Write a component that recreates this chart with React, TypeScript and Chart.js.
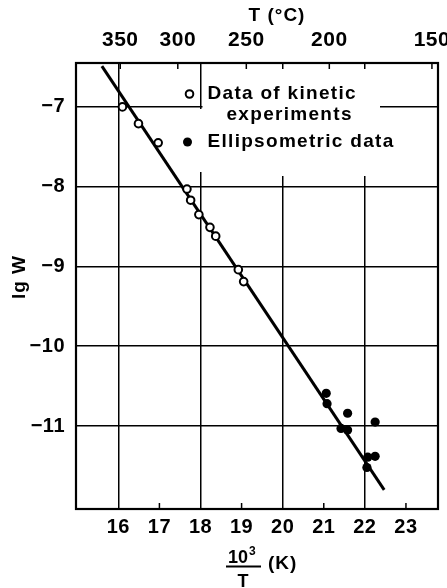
import React, { useEffect, useRef } from "react";
import { Chart, registerables } from "chart.js";
Chart.register(...registerables);

// x: reciprocal temperature (as labelled on the axis), y: lg W
const kineticX = [16.1, 16.49, 16.97, 17.67, 17.76, 17.96, 18.23, 18.37, 18.92, 19.05];
const kineticY = [-7.0, -7.21, -7.45, -8.03, -8.17, -8.35, -8.51, -8.62, -9.04, -9.19];
const ellipsX = [21.06, 21.08, 21.58, 21.42, 21.58, 22.25, 22.07, 22.25, 22.05];
const ellipsY = [-10.59, -10.72, -10.84, -11.03, -11.05, -10.95, -11.39, -11.38, -11.52];
const fitX = [15.6, 22.47];
const fitY = [-6.49, -11.8];

const bottomTicks = [16, 17, 18, 19, 20, 21, 22, 23];
const yTicks = [-7, -8, -9, -10, -11];
const topTicksC = [350, 300, 250, 200, 150];

const kineticLabel = ["Data of kinetic", "experiments"];
const ellipsLabel = "Ellipsometric data";

const FONT = "'Liberation Sans', Arial, sans-serif";
const tickFont = { family: FONT, size: 20, weight: "bold" as const };
const topFont = { family: FONT, size: 21, weight: "bold" as const };

// position of a Celsius temperature on the reciprocal-temperature axis
const toInvK = (c: number) => 10000 / (c + 273.15);

export default function App() {
  const ref = useRef<HTMLCanvasElement | null>(null);
  useEffect(() => {
    if (!ref.current) return;
    const spacing = (chart: any) => {
      try {
        chart.ctx.letterSpacing = "0.5px";
      } catch (e) {}
    };
    const custom = {
      id: "custom",
      beforeUpdate: spacing,
      beforeDraw: spacing,
      beforeDatasetsDraw(chart: any) {
        const ctx = chart.ctx;
        const a = chart.chartArea;
        const x = chart.scales.x;
        const x18 = x.getPixelForValue(18);
        ctx.save();
        // legend background
        ctx.fillStyle = "#fff";
        ctx.fillRect(x18 + 2, a.top + 6, 380 - x18 - 2, 176 - a.top - 6);
        ctx.fillRect(x18 - 3, 109, 6, 172 - 109);
        // plot frame
        ctx.strokeStyle = "#000";
        ctx.lineWidth = 2.2;
        ctx.strokeRect(a.left, a.top, a.right - a.left, a.bottom - a.top);
        // inward minor ticks at bottom (odd values)
        ctx.lineWidth = 1.5;
        bottomTicks.forEach((v) => {
          if (v % 2 === 1) {
            const px = x.getPixelForValue(v);
            ctx.beginPath();
            ctx.moveTo(px, a.bottom);
            ctx.lineTo(px, a.bottom - 6);
            ctx.stroke();
          }
        });
        // inward ticks at top (°C)
        const x2 = chart.scales.x2;
        topTicksC.forEach((c) => {
          const px = x2.getPixelForValue(toInvK(c));
          ctx.beginPath();
          ctx.moveTo(px, a.top);
          ctx.lineTo(px, a.top + 6);
          ctx.stroke();
        });
        // legend
        const lx = x18 - 11;
        ctx.fillStyle = "#000";
        ctx.letterSpacing = "1.3px";
        ctx.font = `bold 19px ${FONT}`;
        ctx.textBaseline = "middle";
        ctx.textAlign = "left";
        ctx.fillText(kineticLabel[0], lx + 18, 94);
        ctx.fillText(kineticLabel[1], lx + 37, 115);
        ctx.fillText(ellipsLabel, lx + 18, 142);
        ctx.beginPath();
        ctx.arc(lx, 94, 3.8, 0, Math.PI * 2);
        ctx.fillStyle = "#fff";
        ctx.fill();
        ctx.lineWidth = 2;
        ctx.stroke();
        ctx.beginPath();
        ctx.arc(lx - 2, 142, 4.5, 0, Math.PI * 2);
        ctx.fillStyle = "#000";
        ctx.fill();
        ctx.restore();
      },
      afterDraw(chart: any) {
        const ctx = chart.ctx;
        ctx.save();
        ctx.fillStyle = "#000";
        ctx.strokeStyle = "#000";
        ctx.letterSpacing = "1px";
        ctx.textBaseline = "middle";
        ctx.textAlign = "center";
        ctx.font = `bold 19px ${FONT}`;
        ctx.fillText("T (°C)", 277, 16);
        // y title
        ctx.save();
        ctx.translate(20, 277);
        ctx.rotate(-Math.PI / 2);
        ctx.fillText("lg W", 0, 0);
        ctx.restore();
        // bottom title: 10^3 / T (K)
        ctx.letterSpacing = "0px";
        ctx.textAlign = "left";
        ctx.font = `bold 18px ${FONT}`;
        ctx.textBaseline = "alphabetic";
        ctx.fillText("10", 228, 563);
        ctx.font = `bold 12px ${FONT}`;
        ctx.fillText("3", 249, 555);
        ctx.lineWidth = 2;
        ctx.beginPath();
        ctx.moveTo(226, 566.5);
        ctx.lineTo(261, 566.5);
        ctx.stroke();
        ctx.textAlign = "center";
        ctx.font = `bold 18px ${FONT}`;
        ctx.fillText("T", 243, 587);
        ctx.textAlign = "left";
        ctx.letterSpacing = "1px";
        ctx.font = `bold 19px ${FONT}`;
        ctx.textBaseline = "middle";
        ctx.fillText("(K)", 268, 564);
        ctx.restore();
      },
    };

    const chart = new Chart(ref.current, {
      type: "scatter",
      data: {
        datasets: [
          {
            label: kineticLabel.join(" "),
            data: kineticX.map((v, i) => ({ x: v, y: kineticY[i] })),
            pointRadius: 3.8,
            pointBorderWidth: 2,
            pointBackgroundColor: "#fff",
            pointBorderColor: "#000",
          },
          {
            label: ellipsLabel,
            data: ellipsX.map((v, i) => ({ x: v, y: ellipsY[i] })),
            pointRadius: 4.6,
            pointBorderWidth: 0,
            pointBackgroundColor: "#000",
            pointBorderColor: "#000",
          },
          {
            type: "line",
            label: "fit",
            data: fitX.map((v, i) => ({ x: v, y: fitY[i] })),
            borderColor: "#000",
            borderWidth: 3,
            pointRadius: 0,
            showLine: true,
            fill: false,
          } as any,
        ],
      },
      options: {
        responsive: false,
        animation: false,
        layout: { padding: { left: 0, right: 9, top: 0, bottom: 0 } },
        plugins: { legend: { display: false }, tooltip: { enabled: false } },
        scales: {
          x: {
            type: "linear",
            position: "bottom",
            min: 14.97,
            max: 23.78,
            afterBuildTicks: (s: any) => {
              s.ticks = bottomTicks.map((v) => ({ value: v }));
            },
            afterFit: (s: any) => {
              s.height = 79;
              s.paddingLeft = 0;
              s.paddingRight = 0;
            },
            ticks: { autoSkip: false, maxRotation: 0, color: "#000", font: tickFont, padding: 6 },
            grid: {
              drawTicks: false,
              color: (c: any) => (c.tick && Math.round(c.tick.value) % 2 === 0 ? "#000" : "rgba(0,0,0,0)"),
              lineWidth: 1.5,
            },
            border: { display: false },
          },
          x2: {
            type: "linear",
            position: "top",
            min: 14.97,
            max: 23.78,
            afterBuildTicks: (s: any) => {
              s.ticks = topTicksC.map((c) => ({ value: toInvK(c) }));
            },
            afterFit: (s: any) => {
              s.height = 63;
              s.paddingLeft = 0;
              s.paddingRight = 0;
            },
            ticks: {
              autoSkip: false,
              maxRotation: 0,
              color: "#000",
              font: topFont,
              padding: 10,
              callback: (_v: any, i: number) => String(topTicksC[i]),
            },
            grid: { drawOnChartArea: false, drawTicks: false },
            border: { display: false },
          },
          y: {
            type: "linear",
            min: -12.04,
            max: -6.45,
            afterBuildTicks: (s: any) => {
              s.ticks = yTicks.map((v) => ({ value: v }));
            },
            afterFit: (s: any) => {
              s.width = 76;
            },
            ticks: {
              autoSkip: false,
              color: "#000",
              font: tickFont,
              padding: 11,
              callback: (v: any) => (v < 0 ? "\u2212" + Math.abs(v) : String(v)),
            },
            grid: { drawTicks: false, color: "#000", lineWidth: 1.5 },
            border: { display: false },
          },
        },
      },
      plugins: [custom],
    } as any);
    return () => chart.destroy();
  }, []);

  return (
    <canvas
      ref={ref}
      width={447}
      height={588}
      style={{ position: "fixed", left: 0, top: 0, width: 447, height: 588, display: "block", background: "#fff" }}
    />
  );
}
